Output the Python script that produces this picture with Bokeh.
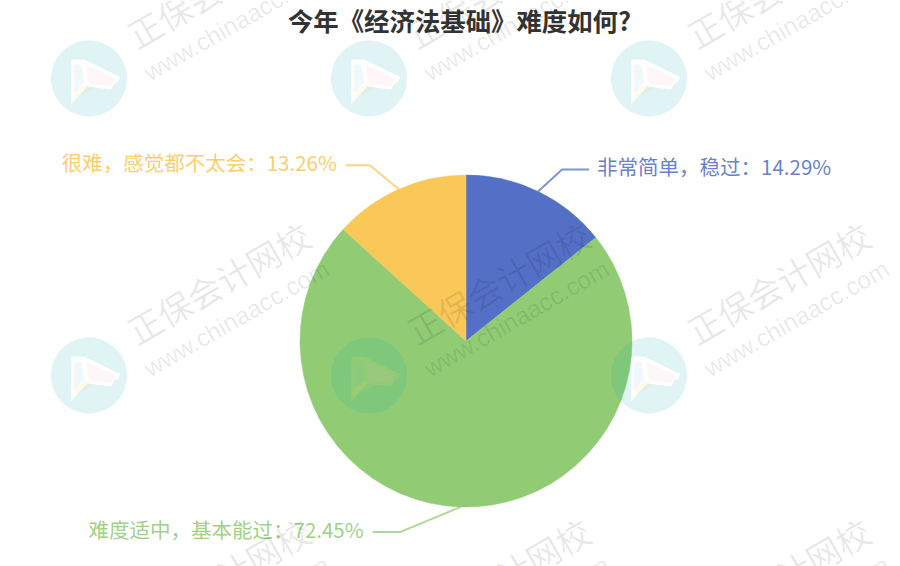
import math
from bokeh.plotting import figure
from bokeh.models import Range1d
from bokeh.core.properties import value
from bokeh.embed import file_html
from bokeh.resources import INLINE

title = "今年《经济法基础》难度如何?"
categories = ["非常简单\uff0c稳过", "难度适中\uff0c基本能过", "很难\uff0c感觉都不太会"]
percents = [14.29, 72.45, 13.26]
colors = ["#5470c6", "#91cc75", "#fac858"]
wm_cn = "正保会计网校"
wm_url = "www.chinaacc.com"

W, H = 900, 566
FONT = "Noto Sans CJK SC"

p = figure(width=W, height=H, output_backend="svg", toolbar_location=None,
           x_range=Range1d(0, W), y_range=Range1d(0, H), min_border=0,
           outline_line_color=None, background_fill_color="white", tools="")
p.xaxis.visible = False
p.yaxis.visible = False
p.grid.visible = False

Y = lambda y: H - y  # image-style y to upward plot units

cx, cy, r = 465.5, 340.5, 166

# pie
total = sum(percents)
start = 0.0
mids = []
for cat, v, c in zip(categories, percents, colors):
    a0 = math.pi / 2 - start / total * 2 * math.pi
    a1 = math.pi / 2 - (start + v) / total * 2 * math.pi
    p.wedge(x=[cx], y=[Y(cy)], radius=r, start_angle=a0, end_angle=a1, direction="clock",
            fill_color=c, line_color=c, line_width=0.5)
    mids.append((start + v / 2) / total * 2 * math.pi)
    start += v

# leader lines and labels: elbow offset from the rim, run length
elbows = [(24, -22, 27), (-60, 25, -28), (-29, -24, -24)]
for cat, v, c, m, (dx, dy, run) in zip(categories, percents, colors, mids, elbows):
    x0 = cx + r * math.sin(m)
    y0 = cy - r * math.cos(m)
    x1, y1 = x0 + dx, y0 + dy
    x2 = x1 + run
    p.line([x0, x1, x2], [Y(y0), Y(y1), Y(y1)], line_color=c, line_width=2, line_alpha=0.75)
    right = run > 0
    p.text(x=[x2 + (8 if right else -9)], y=[Y(y1 - 3)], text=[f"{cat}\uff1a{v:.2f}%"],
           text_color=c, text_font=value(FONT), text_font_size="20.5px",
           text_align="left" if right else "right", text_baseline="middle", text_alpha=0.9)

# title
p.text(x=[459], y=[Y(19)], text=[title], text_color="#333333", text_font=value(FONT),
       text_font_size="25.4px", text_font_style="bold", text_align="center", text_baseline="middle")

# watermark tile
logo_xs = [88.5, 368.5, 648.5]
logo_ys = [78, 375]
cn_xs = [218, 498, 778]
cn_ys = [-14, 282, 578]

hole = [(-18, 26), (-17.5, -19), (-4, -18.5), (31, -1.5), (29, 4), (26, 4), (22, 11), (-2, 8)]
wing = [(-3, -14), (26, 0), (22, 8), (0, 5)]
strip = [(-15, -14), (-8, -14), (-5, 4), (-15, 14)]
foot = [(-15, 20), (-15, 12), (-4, 6), (7, 9)]
ang = [2 * math.pi * i / 96 for i in range(96)]
for lx in logo_xs:
    for ly in logo_ys:
        ox = [lx + 38 * math.cos(a) for a in ang]
        oy = [Y(ly) + 38 * math.sin(a) for a in ang]
        hx = [lx + q[0] for q in hole]
        hy = [Y(ly + q[1]) for q in hole]
        p.multi_polygons(xs=[[[ox, hx]]], ys=[[[oy, hy]]], fill_color="#00a3ab",
                         fill_alpha=0.12, line_color=None)
        for shape, tint in ((wing, "#f2a6c0"), (strip, "#6fb7e6"), (foot, "#f7d95c")):
            p.patch([lx + q[0] for q in shape], [Y(ly + q[1]) for q in shape],
                    fill_color=tint, fill_alpha=0.1, line_color=None)

for wx in cn_xs:
    for wy in cn_ys:
        p.text(x=[wx], y=[Y(wy)], text=[wm_cn], angle=0.52, text_color="#000000", text_alpha=0.09,
               text_font=value(FONT), text_font_size="34px", text_align="center",
               text_baseline="middle")
        p.text(x=[wx + 18], y=[Y(wy + 36)], text=[wm_url], angle=0.52, text_color="#000000",
               text_alpha=0.09, text_font=value("Liberation Sans"), text_font_size="24.5px",
               text_align="center", text_baseline="middle")

open("out.html", "w").write(file_html(p, INLINE))
